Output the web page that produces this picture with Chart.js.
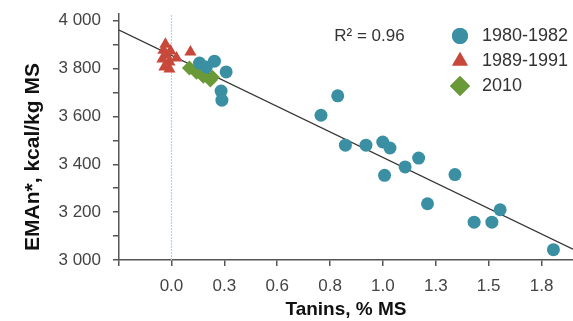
<!DOCTYPE html>
<html><head><meta charset="utf-8">
<script src="https://cdn.jsdelivr.net/npm/chart.js@4.4.1/dist/chart.umd.min.js"></script>
<style>html,body{margin:0;padding:0;background:#fff;overflow:hidden}canvas{display:block}</style>
</head><body><canvas id="c" width="573" height="321"></canvas>
<script>
const seriesNames = ['1980-1982', '1989-1991', '2010'];
const tanninA = [0.139, 0.213, 0.173, 0.271, 0.246, 0.250, 0.741, 0.824, 0.862, 0.964, 1.047, 1.083, 1.056, 1.158, 1.225, 1.405, 1.269, 1.629, 1.500, 1.588, 1.893];
const emanA   = [3823, 3831, 3806, 3786, 3706, 3668, 3605, 3686, 3480, 3480, 3493, 3468, 3354, 3389, 3426, 3357, 3235, 3210, 3158, 3158, 3043];
const tanninB = [-0.030, -0.040, -0.005, -0.025, 0.025, -0.045, -0.010, -0.035, -0.010, 0.094];
const emanB   = [3902, 3877, 3873, 3856, 3844, 3840, 3827, 3806, 3798, 3869];
const tanninC = [0.089, 0.124, 0.158, 0.193, 0.203];
const emanC   = [3802, 3785, 3768, 3752, 3764];
const xTickValues = [-0.26, 0, 0.262, 0.524, 0.786, 1.048, 1.31, 1.572, 1.834];
const xTickLabels = ['', '0.0', '0.3', '0.6', '0.8', '1.0', '1.3', '1.5', '1.8'];
const yTickValues = [3000, 3100, 3200, 3300, 3400, 3500, 3600, 3700, 3800, 3900, 4000];
const xRange = [-0.26, 1.99];
const yRange = [3000, 4028];
const regIntercept = 3855;
const regSlope = -407;
const r2Label = 'R\u00b2 = 0.96';
const r2Pos = [0.807, 3936];
const xTitle = 'Tanins, % MS';
const yTitle = 'EMAn*, kcal/kg MS';

const colors = ['#3a90a2', '#c8493b', '#6a9a38'];
const shapes = ['circle', 'triangle', 'rectRot'];
const radii = [6.5, 7, 7.5];

const toPts = (xs, ys) => xs.map((x, i) => ({x, y: ys[i]}));
const seriesData = [toPts(tanninA, emanA), toPts(tanninB, emanB), toPts(tanninC, emanC)];

const datasets = seriesData.map((d, i) => ({
  type: 'scatter', label: seriesNames[i], data: d,
  pointStyle: shapes[i], pointRadius: radii[i], backgroundColor: colors[i],
  borderWidth: 0, pointBorderWidth: 0
}));
datasets.push({
  type: 'line', label: 'reg', data: xRange.map(x => ({x, y: regIntercept + regSlope * x})),
  borderColor: '#333', borderWidth: 1.4, pointRadius: 0, fill: false
});
datasets.push({
  type: 'line', label: 'zero', data: yRange.map(y => ({x: 0, y})),
  borderColor: '#a8d8f2', borderWidth: 1.2, borderDash: [2, 1], pointRadius: 0, fill: false
});

const FONT = '"Liberation Sans", Arial, sans-serif';
const overlay = {
  id: 'overlay',
  afterDraw(chart) {
    const ctx = chart.ctx, ca = chart.chartArea;
    const xs = chart.scales.x, ys = chart.scales.y;
    ctx.save();
    ctx.fillStyle = '#333';
    ctx.font = '17px ' + FONT;
    ctx.textBaseline = 'middle';
    ctx.textAlign = 'left';
    ctx.fillText(r2Label, xs.getPixelForValue(r2Pos[0]), ys.getPixelForValue(r2Pos[1]));
    ctx.font = '18px ' + FONT;
    const lx = ca.right - 113, ty = ca.top + 22, step = 25;
    seriesNames.forEach((n, i) => {
      const y = ty + i * step;
      ctx.fillStyle = colors[i];
      Chart.helpers.drawPoint(ctx, {pointStyle: shapes[i], radius: [8, 9, 10][i], borderWidth: 0}, lx, y);
      ctx.fill();
      ctx.fillStyle = '#333';
      ctx.fillText(n, lx + 22, y);
    });
    ctx.fillStyle = '#111';
    ctx.font = 'bold 21px ' + FONT;
    ctx.translate(33, (ca.top + ca.bottom) / 2 + 20);
    ctx.rotate(-Math.PI / 2);
    ctx.textAlign = 'center';
    ctx.fillText(yTitle, 0, 0);
    ctx.restore();
  }
};

new Chart(document.getElementById('c'), {
  data: {datasets},
  options: {
    responsive: false, maintainAspectRatio: false, animation: false, devicePixelRatio: 1,
    layout: {autoPadding: false, padding: {top: 14, right: 0, left: 0, bottom: 0}},
    plugins: {legend: {display: false}, tooltip: {enabled: false}},
    scales: {
      x: {
        type: 'linear', min: xRange[0], max: xRange[1],
        afterBuildTicks: s => { s.ticks = xTickValues.map(v => ({value: v})); },
        afterFit: s => { s.height = 61; s.paddingLeft = 0; s.paddingRight = 0; },
        ticks: {
          autoSkip: false, maxRotation: 0, padding: 10, color: '#444',
          font: {family: FONT, size: 17},
          callback: (v, i) => xTickLabels[i]
        },
        grid: {drawOnChartArea: false, drawTicks: true, tickLength: 6, color: '#555', lineWidth: 1.5},
        border: {color: '#555', width: 1.5},
        title: {display: true, text: xTitle, color: '#111', padding: {top: 0, bottom: 0},
          font: {family: FONT, size: 19, weight: 'bold'}}
      },
      y: {
        type: 'linear', min: yRange[0], max: yRange[1],
        afterBuildTicks: s => { s.ticks = yTickValues.map(v => ({value: v})); },
        afterFit: s => { s.width = 119; s.paddingTop = 0; s.paddingBottom = 0; },
        ticks: {
          padding: 12, color: '#444',
          font: {family: FONT, size: 17},
          callback: v => v % 200 === 0 ? String(v).replace(/(\d)(\d{3})$/, '$1 $2') : ''
        },
        grid: {drawOnChartArea: false, drawTicks: true, tickLength: 6, color: '#555', lineWidth: 1.5},
        border: {color: '#555', width: 1.5}
      }
    }
  },
  plugins: [overlay]
});
</script></body></html>
